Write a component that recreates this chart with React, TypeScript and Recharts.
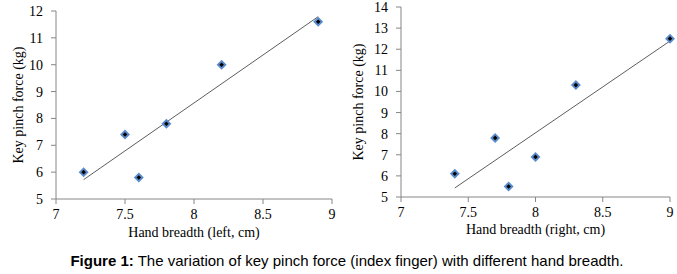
import React from "react";
import { ScatterChart, Scatter, XAxis, YAxis, ReferenceLine } from "recharts";

// left hand: breadth (cm) vs key pinch force (kg)
const leftBreadth = [7.2, 7.5, 7.6, 7.8, 8.2, 8.9];
const leftForce = [6.0, 7.4, 5.8, 7.8, 10.0, 11.6];
const leftTrend = [
  { x: 7.2, y: 5.72 },
  { x: 8.9, y: 11.79 },
];

// right hand
const rightBreadth = [7.4, 7.7, 7.8, 8.0, 8.3, 9.0];
const rightForce = [6.1, 7.8, 5.5, 6.9, 10.3, 12.5];
const rightTrend = [
  { x: 7.4, y: 5.43 },
  { x: 9.0, y: 12.39 },
];

const xTicks = [7, 7.5, 8, 8.5, 9];
const leftYTicks = [5, 6, 7, 8, 9, 10, 11, 12];
const rightYTicks = [5, 6, 7, 8, 9, 10, 11, 12, 13, 14];

const AXIS = "#868686";
const SERIF = "'Liberation Serif', 'Times New Roman', serif";
const tickStyle = { fontSize: 14, fill: "#000" };
const titleStyle = { fontSize: 14, fill: "#000" };

function Diamond(props: any) {
  const { cx, cy } = props;
  if (cx == null || cy == null) return null;
  const r = 5;
  const s = 2.3;
  return (
    <g>
      <polygon
        points={`${cx},${cy - r} ${cx + r},${cy} ${cx},${cy + r} ${cx - r},${cy}`}
        fill="#5a8ccc"
      />
      <polygon
        points={`${cx},${cy - s} ${cx + s},${cy} ${cx},${cy + s} ${cx - s},${cy}`}
        fill="#000"
      />
    </g>
  );
}

interface PanelProps {
  xs: number[];
  ys: number[];
  trend: { x: number; y: number }[];
  yTicks: number[];
  xLabel: string;
  width: number;
  top: number;
  yAxisWidth: number;
  right: number;
  xAxisHeight: number;
  xLabelDy: number;
}

function Panel(p: PanelProps) {
  const data = p.xs.map((x, i) => ({ x, y: p.ys[i] }));
  const yMax = p.yTicks[p.yTicks.length - 1];
  return (
    <ScatterChart
      width={p.width}
      height={245}
      margin={{ top: p.top, right: p.right, bottom: 0, left: 0 }}
    >
      <XAxis
        type="number"
        dataKey="x"
        domain={[7, 9]}
        ticks={xTicks}
        interval={0}
        height={p.xAxisHeight}
        stroke={AXIS}
        tickSize={5}
        tickMargin={5}
        tick={tickStyle}
        label={{ value: p.xLabel, position: "center", dy: p.xLabelDy, style: titleStyle }}
      />
      <YAxis
        type="number"
        dataKey="y"
        domain={[5, yMax]}
        ticks={p.yTicks}
        interval={0}
        width={p.yAxisWidth}
        stroke={AXIS}
        tickSize={5}
        tickMargin={8}
        tick={tickStyle}
        label={{
          value: "Key pinch force (kg)",
          angle: -90,
          position: "center",
          dx: 18 - p.yAxisWidth / 2,
          style: { ...titleStyle, textAnchor: "middle" },
        }}
      />
      <ReferenceLine
        segment={p.trend}
        stroke="#333"
        strokeWidth={0.8}
        ifOverflow="visible"
      />
      <Scatter data={data} shape={<Diamond />} isAnimationActive={false} />
    </ScatterChart>
  );
}

export default function App() {
  return (
    <div
      style={{
        position: "absolute",
        left: 0,
        top: 0,
        width: 677,
        height: 274,
        background: "#fff",
      }}
    >
      <div style={{ position: "absolute", left: 0, top: 0, fontFamily: SERIF }}>
        <Panel
          xs={leftBreadth}
          ys={leftForce}
          trend={leftTrend}
          yTicks={leftYTicks}
          xLabel="Hand breadth (left, cm)"
          width={340}
          top={11}
          right={8}
          yAxisWidth={56}
          xAxisHeight={46}
          xLabelDy={10}
        />
      </div>
      <div style={{ position: "absolute", left: 340, top: 0, fontFamily: SERIF }}>
        <Panel
          xs={rightBreadth}
          ys={rightForce}
          trend={rightTrend}
          yTicks={rightYTicks}
          xLabel="Hand breadth (right, cm)"
          width={337}
          top={7}
          right={7}
          yAxisWidth={61}
          xAxisHeight={48}
          xLabelDy={8}
        />
      </div>
      <div
        style={{
          position: "absolute",
          left: 0,
          width: 677,
          top: 252,
          textAlign: "center",
          fontFamily: "'Liberation Sans', Arial, sans-serif",
          fontSize: 15,
          lineHeight: "18px",
          color: "#000",
          paddingLeft: 17,
          boxSizing: "border-box",
          whiteSpace: "nowrap",
        }}
      >
        <b>Figure 1:</b> The variation of key pinch force (index finger) with different hand breadth.
      </div>
    </div>
  );
}
